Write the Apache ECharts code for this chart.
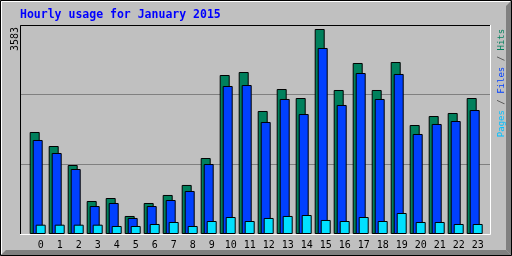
<!DOCTYPE html>
<html><head><meta charset="utf-8">
<script src="https://cdn.jsdelivr.net/npm/echarts@6/dist/echarts.min.js"></script>
<style>html,body{margin:0;padding:0;background:#c0c0c0}#c{width:512px;height:256px}</style>
</head><body><div id="c"></div>
<script>
var hours = ['0','1','2','3','4','5','6','7','8','9','10','11','12','13','14','15','16','17','18','19','20','21','22','23'];
var hits  = [1783,1538,1206,577,629,315,542,682,857,1328,2779,2831,2150,2534,2377,3583,2517,2989,2517,3006,1905,2062,2115,2377];
var files = [1643,1416,1136,489,542,280,489,594,752,1223,2587,2604,1958,2360,2097,3251,2255,2814,2360,2797,1748,1923,1975,2167];
var pages = [163,163,163,163,140,140,175,210,140,227,297,227,280,315,332,245,227,297,227,367,210,210,175,175];
var maxLabel = '3583';
var titleText = 'Hourly usage for January 2015';

var mono = 'DejaVu Sans Mono';
var yMax = 3653;
var chart = echarts.init(document.getElementById('c'), null, {renderer:'canvas'});
var barStyle = function(c){ return {color:c, borderColor:'#000', borderWidth:1}; };
chart.setOption({
  backgroundColor:'#c0c0c0',
  animation:false,
  grid:[
    {left:20, top:25, width:470, height:209, show:false},
    {left:28.2, top:25, width:456, height:209, show:false}
  ],
  xAxis:[
    {gridIndex:0, type:'value', min:0, max:1, show:false},
    {gridIndex:1, type:'category', data:hours, boundaryGap:true,
     axisLine:{show:false}, axisTick:{show:false},
     axisLabel:{color:'#000', fontFamily:mono, fontSize:10, margin:6, padding:[0,0,0,6], interval:0}}
  ],
  yAxis:[
    {gridIndex:0, type:'value', min:0, max:3, interval:1, axisLine:{show:false}, axisTick:{show:false}, axisLabel:{show:false},
     splitLine:{show:true, lineStyle:{color:'#808080', width:1}}},
    {gridIndex:1, type:'value', min:0, max:yMax, show:false, splitLine:{show:false}}
  ],
  series:[
    {type:'bar', xAxisIndex:1, yAxisIndex:1, data:hits, barWidth:10, barGap:'-70%', itemStyle:barStyle('#00805c')},
    {type:'bar', xAxisIndex:1, yAxisIndex:1, data:files, barWidth:10, barGap:'-70%', itemStyle:barStyle('#0040ff')},
    {type:'bar', xAxisIndex:1, yAxisIndex:1, data:pages, barWidth:10, barGap:'-70%', itemStyle:barStyle('#00e0ff')}
  ],
  graphic:[
    {type:'rect', z:100, shape:{x:0.5,y:0.5,width:511,height:255}, style:{fill:null, stroke:'#000', lineWidth:1}},
    {type:'polyline', z:100, shape:{points:[[1.5,254],[1.5,1.5],[510,1.5]]}, style:{fill:null, stroke:'#fff', lineWidth:1}},
    {type:'polygon', z:100, shape:{points:[[506,6],[511,1],[511,255],[506,250]]}, style:{fill:'#808080'}},
    {type:'polygon', z:100, shape:{points:[[1,255],[6,250],[506,250],[511,255]]}, style:{fill:'#808080'}},
    {type:'polyline', z:100, shape:{points:[[20.5,234],[20.5,25.5],[490,25.5]]}, style:{fill:null, stroke:'#000', lineWidth:1}},
    {type:'polyline', z:100, shape:{points:[[20,234.5],[490.5,234.5],[490.5,25]]}, style:{fill:null, stroke:'#fff', lineWidth:1}},
    {type:'text', z:100, x:20, y:15, style:{text:titleText, fill:'#0000ff', font:'bold 11.5px "DejaVu Sans Mono"', align:'left', verticalAlign:'middle'}},
    {type:'text', z:100, x:15, y:39, rotation:Math.PI/2, style:{text:maxLabel, fill:'#000', font:'10px "DejaVu Sans Mono"', align:'center', verticalAlign:'middle'}},
    {type:'text', z:100, x:501.5, y:83, rotation:Math.PI/2, style:{
      text:'{p|Pages}{s| / }{f|Files}{s| / }{h|Hits}', font:'9px "DejaVu Sans Mono"', align:'center', verticalAlign:'middle',
      rich:{p:{fill:'#00c0ff', fontFamily:mono, fontSize:9}, s:{fill:'#404040', fontFamily:mono, fontSize:9},
            f:{fill:'#0040ff', fontFamily:mono, fontSize:9}, h:{fill:'#00805c', fontFamily:mono, fontSize:9}}}}
  ]
});
</script></body></html>
